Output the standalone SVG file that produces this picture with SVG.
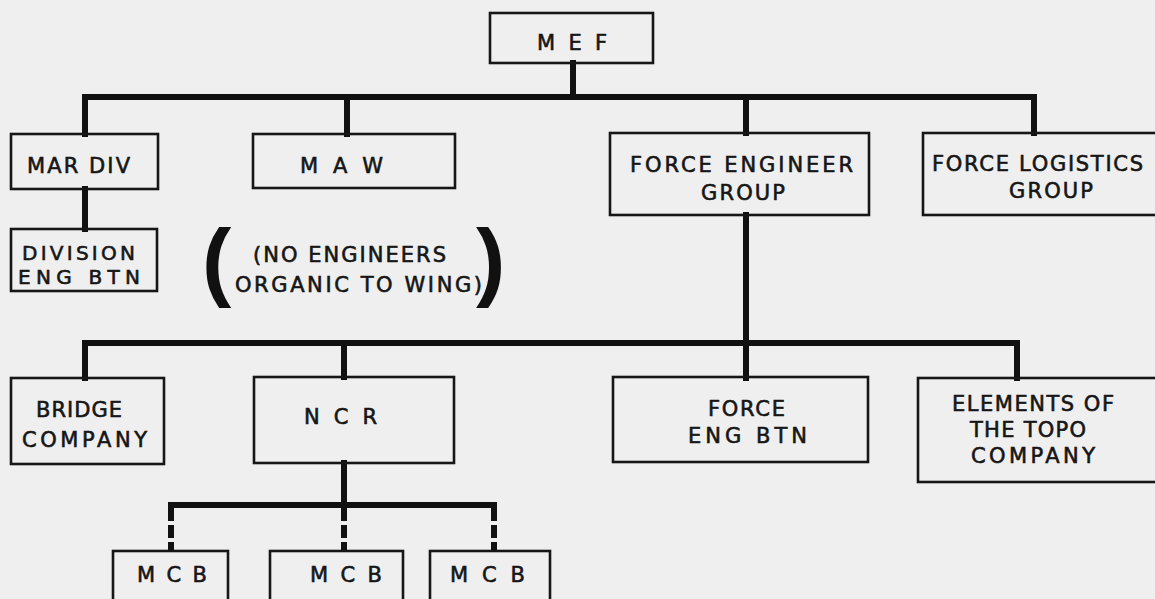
<svg xmlns="http://www.w3.org/2000/svg" width="1155" height="599" viewBox="0 0 1155 599">
<style>
.box{fill:none;stroke:#161616;stroke-width:2.6}
.bar{fill:none;stroke:#111;stroke-width:6;stroke-linecap:square}
.lbl{font-family:"DejaVu Sans","Liberation Sans",Arial,sans-serif;font-size:21px;fill:#161616;stroke:#161616;stroke-width:0.6}
.sm{font-size:20px}
.paren{font-family:"Liberation Sans",Arial,sans-serif;font-size:88px;font-weight:bold;fill:#111}
</style>
<rect x="0" y="0" width="1155" height="599" fill="#efefef"/>
<g id="connectors">
<path class="bar" d="M573 63 V97 M85 134 V97 H1034 V133 M347 97 V134 M746 97 V133"/>
<path class="bar" d="M85 189 V229"/>
<path class="bar" d="M746 215 V343 M85 378 V343 H1017 V378 M344 343 V377 M746 343 V378"/>
<path class="bar" d="M344 463 V505 M171 505 H494"/>
<path class="bar" style="stroke-linecap:butt" stroke-dasharray="16 4 13 4 20" d="M171 505 V551 M344 505 V551 M494 505 V551"/>
</g>
<g id="mef"><rect class="box" x="490" y="13" width="163" height="50"/><text class="lbl" x="537" y="50" textLength="70" lengthAdjust="spacing">M E F</text></g>
<g id="mardiv"><rect class="box" x="11" y="134" width="147" height="55"/><text class="lbl" x="27" y="173" textLength="103" lengthAdjust="spacing">MAR DIV</text></g>
<g id="maw"><rect class="box" x="253" y="134" width="202" height="54"/><text class="lbl" x="300" y="173" textLength="83" lengthAdjust="spacing">M A W</text></g>
<g id="feg"><rect class="box" x="610" y="133" width="259" height="82"/><text class="lbl" x="630" y="172" textLength="223" lengthAdjust="spacing">FORCE  ENGINEER</text><text class="lbl" x="701" y="200" textLength="84" lengthAdjust="spacing">GROUP</text></g>
<g id="flg"><rect class="box" x="923" y="133" width="240" height="82"/><text class="lbl" x="932" y="171" textLength="211" lengthAdjust="spacing">FORCE LOGISTICS</text><text class="lbl" x="1009" y="198" textLength="84" lengthAdjust="spacing">GROUP</text></g>
<g id="diveng"><rect class="box" x="11" y="229" width="146" height="62"/><text class="lbl sm" x="22" y="260" textLength="113" lengthAdjust="spacing">DIVISION</text><text class="lbl sm" x="18" y="284" textLength="122" lengthAdjust="spacing">ENG  BTN</text></g>
<g id="note"><text class="paren" x="202" y="290">(</text><text class="paren" x="476" y="290">)</text><text class="lbl" x="253" y="262" textLength="193" lengthAdjust="spacing">(NO ENGINEERS</text><text class="lbl" x="235" y="292" textLength="247" lengthAdjust="spacing">ORGANIC TO WING)</text></g>
<g id="bridge"><rect class="box" x="11" y="378" width="153" height="86"/><text class="lbl" x="36" y="417" textLength="86" lengthAdjust="spacing">BRIDGE</text><text class="lbl" x="22" y="447" textLength="125" lengthAdjust="spacing">COMPANY</text></g>
<g id="ncr"><rect class="box" x="254" y="377" width="200" height="86"/><text class="lbl" x="304" y="424" textLength="73" lengthAdjust="spacing">N C R</text></g>
<g id="forceengbtn"><rect class="box" x="613" y="377" width="255" height="85"/><text class="lbl" x="708" y="416" textLength="77" lengthAdjust="spacing">FORCE</text><text class="lbl" x="688" y="443" textLength="119" lengthAdjust="spacing">ENG  BTN</text></g>
<g id="topo"><rect class="box" x="918" y="378" width="245" height="104"/><text class="lbl" x="952" y="411" textLength="162" lengthAdjust="spacing">ELEMENTS OF</text><text class="lbl" x="970" y="437" textLength="116" lengthAdjust="spacing">THE TOPO</text><text class="lbl" x="971" y="463" textLength="124" lengthAdjust="spacing">COMPANY</text></g>
<g id="mcb1"><rect class="box" x="113" y="551" width="115" height="60"/><text class="lbl" x="137" y="582" textLength="70" lengthAdjust="spacing">M C B</text></g>
<g id="mcb2"><rect class="box" x="270" y="551" width="133" height="60"/><text class="lbl" x="310" y="582" textLength="72" lengthAdjust="spacing">M C B</text></g>
<g id="mcb3"><rect class="box" x="430" y="551" width="120" height="60"/><text class="lbl" x="450" y="582" textLength="75" lengthAdjust="spacing">M C B</text></g>
</svg>
